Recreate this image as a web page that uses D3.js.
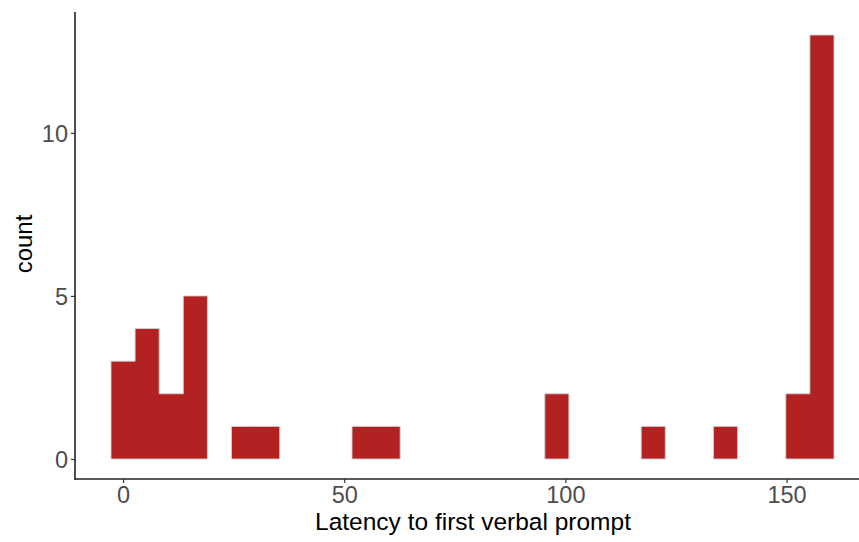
<!DOCTYPE html>
<html>
<head>
<meta charset="utf-8">
<script src="https://cdn.jsdelivr.net/npm/d3@7"></script>
<style>
  html, body { margin: 0; padding: 0; background: #fff; }
  svg text { font-family: "Liberation Sans", Arial, sans-serif; }
</style>
</head>
<body>
<svg id="chart" width="859" height="542"></svg>
<script>
// Histogram of latencies: 30 equal bins, the first centred at 0 and the last at 158
const dataMin = 0;
const dataMax = 158;
const binCount = 30;
const counts = [3, 4, 2, 5, 0, 1, 1, 0, 0, 0, 1, 1, 0, 0, 0, 0, 0, 0, 2, 0, 0, 0, 1, 0, 0, 1, 0, 0, 2, 13];
const xTicks = [0, 50, 100, 150];
const yTicks = [0, 5, 10];
const xTitle = "Latency to first verbal prompt";
const yTitle = "count";

const binWidth = (dataMax - dataMin) / (binCount - 1);
const bins = counts.map((c, i) => ({
  x0: dataMin + (i - 0.5) * binWidth,
  x1: dataMin + (i + 0.5) * binWidth,
  count: c
}));

// group neighbouring non-empty bins so each run is drawn as one seamless shape
const runs = [];
let current = null;
bins.forEach(b => {
  if (b.count > 0) {
    if (!current) { current = []; runs.push(current); }
    current.push(b);
  } else {
    current = null;
  }
});

const svg = d3.select("#chart");
const axisLeftX = 75, axisBottomY = 479;

const x = d3.scaleLinear()
  .domain([bins[0].x0, bins[bins.length - 1].x1])
  .range([111, 834]);
const y = d3.scaleLinear()
  .domain([0, 13])
  .range([459, 35]);

function runPath(run) {
  const p = d3.path();
  p.moveTo(x(run[0].x0), y(0));
  run.forEach(b => {
    p.lineTo(x(b.x0), y(b.count));
    p.lineTo(x(b.x1), y(b.count));
  });
  p.lineTo(x(run[run.length - 1].x1), y(0));
  p.closePath();
  return p.toString();
}

svg.append("g")
  .selectAll("path")
  .data(runs)
  .join("path")
  .attr("d", runPath)
  .attr("fill", "#B22222")
  .attr("stroke", "#d0d0d0")
  .attr("stroke-width", 0.9);

// y axis
const yAxis = svg.append("g")
  .attr("transform", `translate(${axisLeftX},0)`)
  .call(d3.axisLeft(y).tickValues(yTicks).tickSize(4).tickPadding(3));
yAxis.select(".domain").attr("d", `M0,12V${axisBottomY + 1}`);

// x axis
const xAxis = svg.append("g")
  .attr("transform", `translate(0,${axisBottomY})`)
  .call(d3.axisBottom(x).tickValues(xTicks).tickSize(4).tickPadding(3));
xAxis.select(".domain").attr("d", `M${axisLeftX},0H859`);

svg.selectAll(".domain")
  .attr("stroke", "#222")
  .attr("stroke-width", 1.6);
svg.selectAll(".tick line")
  .attr("stroke", "#333")
  .attr("stroke-width", 1.2);
svg.selectAll(".tick text")
  .attr("fill", "#4d4d4d")
  .attr("font-size", 23.5)
  .style("font-family", "'Liberation Sans', Arial, sans-serif");
yAxis.selectAll(".tick text").attr("dy", "0.35em");

// axis titles
svg.append("text")
  .attr("x", 473)
  .attr("y", 530)
  .attr("text-anchor", "middle")
  .attr("font-size", 24.5)
  .attr("fill", "#000")
  .text(xTitle);

svg.append("text")
  .attr("transform", "translate(32,244) rotate(-90)")
  .attr("text-anchor", "middle")
  .attr("font-size", 24)
  .attr("fill", "#000")
  .text(yTitle);
</script>
</body>
</html>
